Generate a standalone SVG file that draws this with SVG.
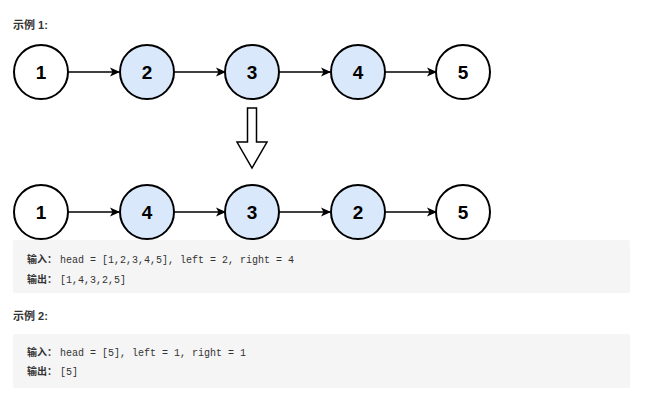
<svg xmlns="http://www.w3.org/2000/svg" width="659" height="404" viewBox="0 0 659 404">
<defs>
<marker id="ah" viewBox="0 0 10 10" refX="9" refY="5" markerWidth="10" markerHeight="10" markerUnits="userSpaceOnUse" orient="auto">
<path d="M0,0.5 L10,5 L0,9.5 L2.5,5 Z" fill="#000"/>
</marker>
</defs>
<style>
.n{stroke:#000;stroke-width:2}
.w{fill:#fff}
.b{fill:#dae8fc}
.t{font-family:"Liberation Sans",Arial,sans-serif;font-weight:bold;font-size:19px;fill:#000;text-anchor:middle}
.e{stroke:#000;stroke-width:1.5;fill:none;marker-end:url(#ah)}
.h{font-family:"Liberation Sans","Noto Sans CJK SC",sans-serif;font-weight:bold;font-size:11px;fill:#333}
.box{fill:#f5f5f5}
.cn{font-family:"Noto Sans CJK SC",sans-serif;font-weight:bold;font-size:10px;fill:#333}
.m{font-family:"Liberation Mono","DejaVu Sans Mono",monospace;font-size:10px;fill:#333}
</style>
<rect width="659" height="404" fill="#fff"/>
<text class="h" x="13" y="29">示例 1:</text>
<g id="connectors">
<line class="e" x1="68" y1="72" x2="119" y2="72"/>
<line class="e" x1="174" y1="72" x2="225" y2="72"/>
<line class="e" x1="279" y1="72" x2="330" y2="72"/>
<line class="e" x1="385" y1="72" x2="436" y2="72"/>
<line class="e" x1="68" y1="212" x2="119" y2="212"/>
<line class="e" x1="174" y1="212" x2="225" y2="212"/>
<line class="e" x1="279" y1="212" x2="330" y2="212"/>
<line class="e" x1="385" y1="212" x2="436" y2="212"/>
</g>
<g id="a1"><circle class="n w" cx="41" cy="72" r="27"/><text class="t" x="41" y="79">1</text></g>
<g id="a2"><circle class="n b" cx="147" cy="72" r="27"/><text class="t" x="147" y="79">2</text></g>
<g id="a3"><circle class="n b" cx="252" cy="72" r="27"/><text class="t" x="252" y="79">3</text></g>
<g id="a4"><circle class="n b" cx="358" cy="72" r="27"/><text class="t" x="358" y="79">4</text></g>
<g id="a5"><circle class="n w" cx="463" cy="72" r="27"/><text class="t" x="463" y="79">5</text></g>
<g id="down"><path d="M247.5,108 L256.5,108 L256.5,142 L267,142 L252,168 L237,142 L247.5,142 Z" fill="#fff" stroke="#000" stroke-width="1.5"/></g>
<rect class="box" x="13" y="240" width="617" height="53" rx="2"/>
<g id="b1"><circle class="n w" cx="41" cy="212" r="27"/><text class="t" x="41" y="219">1</text></g>
<g id="b2"><circle class="n b" cx="147" cy="212" r="27"/><text class="t" x="147" y="219">4</text></g>
<g id="b3"><circle class="n b" cx="252" cy="212" r="27"/><text class="t" x="252" y="219">3</text></g>
<g id="b4"><circle class="n b" cx="358" cy="212" r="27"/><text class="t" x="358" y="219">2</text></g>
<g id="b5"><circle class="n w" cx="463" cy="212" r="27"/><text class="t" x="463" y="219">5</text></g>
<text class="cn" x="27" y="263">输入：</text><text class="m" x="60" y="263">head = [1,2,3,4,5], left = 2, right = 4</text>
<text class="cn" x="27" y="283">输出：</text><text class="m" x="60" y="283">[1,4,3,2,5]</text>
<text class="h" x="13" y="320">示例 2:</text>
<rect class="box" x="13" y="334" width="617" height="54" rx="2"/>
<text class="cn" x="27" y="356">输入：</text><text class="m" x="60" y="356">head = [5], left = 1, right = 1</text>
<text class="cn" x="27" y="375">输出：</text><text class="m" x="60" y="375">[5]</text>
</svg>
